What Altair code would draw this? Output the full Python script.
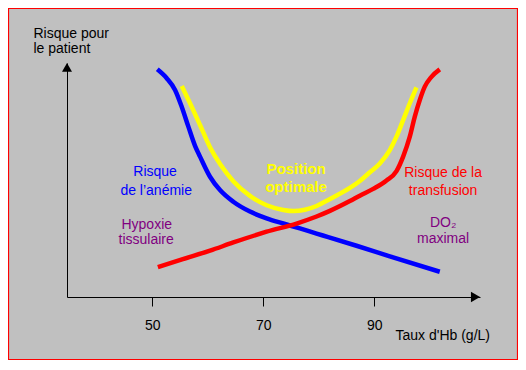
import altair as alt
import pandas as pd

# Curves (x = Hb g/L, y = relative risk 0-100)
blue_x = [50.9, 52.6, 54.1, 55.3, 56.5, 57.7, 58.6, 60.4, 62.2, 64.6, 67.6, 70.6, 73.6, 76.6, 79.6, 81.7,
          86.8, 92.8, 101.8]
blue_y = [97.3, 93.5, 88.5, 81.3, 72.8, 64.6, 60.0, 51.4, 45.7, 40.7, 36.5, 33.6, 31.4, 29.3, 27.1, 25.6,
          21.9, 17.4, 10.8]

yellow_x = [55.3, 56.8, 58.6, 60.4, 62.3, 64.6, 67.6, 70.6, 73.6, 75.5, 77.5, 79.6, 81.7, 85.6, 87.4, 89.2,
            91.0, 92.8, 94.0, 95.2, 96.4, 97.6]
yellow_y = [90.2, 82.8, 73.5, 64.0, 56.5, 49.5, 43.2, 39.2, 37.2, 36.7, 37.3, 38.9, 41.5, 46.6, 49.6, 53.3,
            57.1, 62.8, 68.5, 75.6, 82.8, 89.6]

red_x = [51.0, 55.5, 60.4, 64.6, 70.6, 76.0, 79.6, 82.0, 85.6, 87.4, 89.8, 92.2, 94.0, 95.2, 96.4, 97.3,
         98.2, 99.1, 100.3, 101.8]
red_y = [12.8, 16.2, 19.8, 23.3, 27.9, 31.4, 34.4, 36.8, 41.0, 43.3, 46.2, 49.8, 53.8, 60.0, 68.5, 77.1,
         84.2, 89.9, 94.1, 97.3]

x_ticks = [50, 70, 90]
x_domain = [34.63, 109.05]
y_domain = [0, 100]

# Annotations
lab_text = ["Risque", "de l\u2019an\u00e9mie", "Hypoxie", "tissulaire",
            "Risque de la", "transfusion", "DO\u2082", "maximal"]
lab_x = [50.5, 50.7, 49.0, 48.9, 102.4, 102.4, 102.4, 102.4]
lab_y = [53.4, 45.3, 30.8, 24.4, 53.0, 45.3, 31.6, 24.8]
lab_col = ["#0000FF", "#0000FF", "#800080", "#800080",
           "#FF0000", "#FF0000", "#800080", "#800080"]

opt_text = ["Position", "optimale"]
opt_x = [75.9, 75.9]
opt_y = [54.7, 47.0]

W, H = 413, 234
PAD = {"left": 59, "top": 55, "right": 38, "bottom": 63}
FONT = "Liberation Sans"

curves = pd.concat([
    pd.DataFrame({"hb": yellow_x, "risk": yellow_y, "serie": "optimal"}),
    pd.DataFrame({"hb": blue_x, "risk": blue_y, "serie": "anemie"}),
    pd.DataFrame({"hb": red_x, "risk": red_y, "serie": "transfusion"}),
], ignore_index=True)

xs = alt.Scale(domain=x_domain, nice=False, zero=False)
ys = alt.Scale(domain=y_domain, nice=False, zero=False)

x_axis = alt.Axis(
    values=x_ticks, grid=False, domainColor="black", domainWidth=1,
    tickColor="black", tickSize=9, tickWidth=1, labelPadding=12,
    labelFontSize=14, labelColor="black", labelFont=FONT,
    title="Taux d'Hb (g/L)", titleFontSize=14, titleFontWeight="normal",
    titleColor="black", titleFont=FONT,
    titleX=328, titleY=42, titleAlign="left", titleBaseline="alphabetic",
    titleAnchor="start")
y_axis = alt.Axis(
    grid=False, ticks=False, labels=False, domainColor="black", domainWidth=1,
    title=["Risque pour", "le patient"], titleAngle=0, titleFontSize=14,
    titleFontWeight="normal", titleColor="black", titleFont=FONT,
    titleX=-34, titleY=-26, titleAlign="left", titleBaseline="alphabetic",
    titleLineHeight=15.5, titleAnchor="start")


def X():
    return alt.X("hb:Q", scale=xs, axis=x_axis)


def Y():
    return alt.Y("risk:Q", scale=ys, axis=y_axis)


def line(name, color):
    d = curves[curves.serie == name]
    return alt.Chart(d).mark_line(color=color, strokeWidth=4.5, interpolate="monotone",
                                  strokeCap="butt").encode(x=X(), y=Y(), order="hb:Q")


arrow_up = alt.Chart(pd.DataFrame({"hb": [x_domain[0]], "risk": [y_domain[1]]})).mark_point(
    shape="triangle-up", filled=True, color="black", size=100, opacity=1, yOffset=4.3
).encode(x=X(), y=Y())

arrow_right = alt.Chart(pd.DataFrame({"hb": [x_domain[1]], "risk": [y_domain[0]]})).mark_point(
    shape="triangle-right", filled=True, color="black", size=110, opacity=1, xOffset=-4.5
).encode(x=X(), y=Y())

labels = alt.Chart(pd.DataFrame({"hb": lab_x, "risk": lab_y, "t": lab_text, "c": lab_col})).mark_text(
    fontSize=14, font=FONT, align="center", baseline="middle"
).encode(x=X(), y=Y(), text="t:N", color=alt.Color("c:N", scale=None))

opt_labels = alt.Chart(pd.DataFrame({"hb": opt_x, "risk": opt_y, "t": opt_text})).mark_text(
    fontSize=15, font=FONT, fontWeight="bold", align="center", baseline="middle",
    color="#FFFF00"
).encode(x=X(), y=Y(), text="t:N")

border = alt.Chart(pd.DataFrame({"k": [0]})).mark_rect(
    fillOpacity=0, stroke="#FF0000", strokeWidth=1.2
).encode(
    x=alt.value(-PAD["left"] + 0.5), x2=alt.value(W + PAD["right"] - 0.5),
    y=alt.value(-PAD["top"] + 0.5), y2=alt.value(H + PAD["bottom"] - 0.5),
)

chart = alt.layer(
    line("optimal", "#FFFF00"), line("anemie", "#0000FF"),
    line("transfusion", "#FF0000"), labels, opt_labels, arrow_up, arrow_right, border
).properties(
    width=W, height=H, padding=PAD,
    autosize=alt.AutoSizeParams(type="none"),
    background="#C0C0C0",
).configure_view(strokeOpacity=0)

chart.save("out.html", embed_options={"renderer": "svg", "actions": False})
